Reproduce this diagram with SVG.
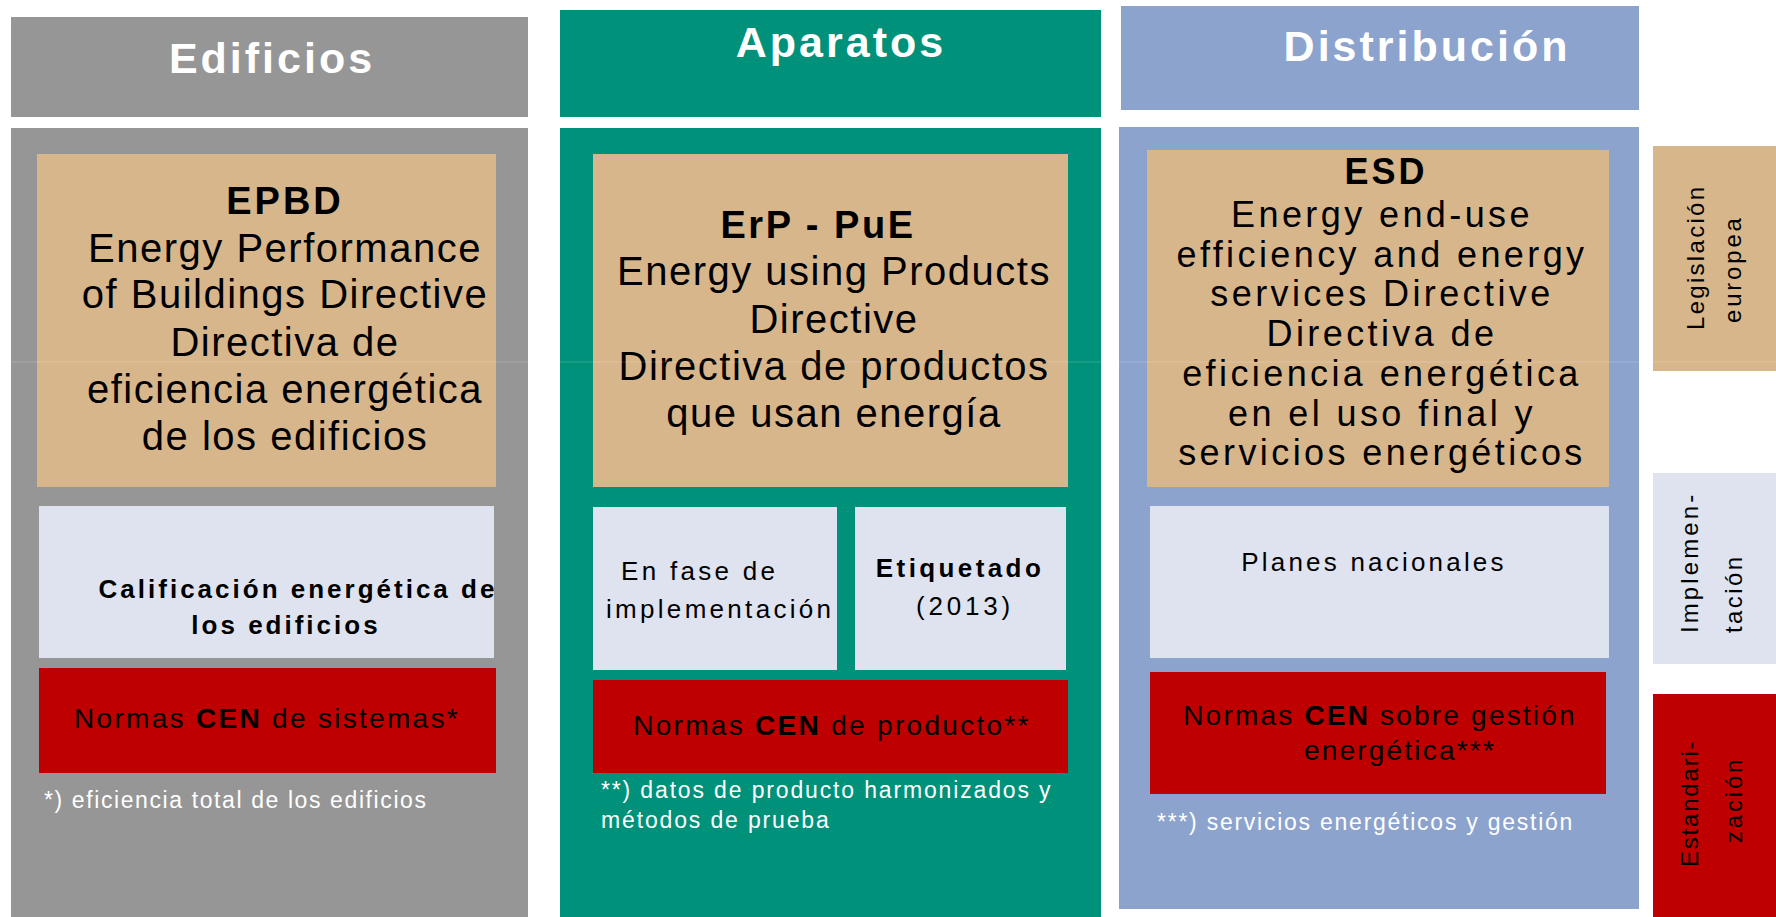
<svg xmlns="http://www.w3.org/2000/svg" width="1776" height="917" viewBox="0 0 1776 917">
<style>
text{font-family:'Liberation Sans',Arial,Helvetica,sans-serif;fill:#000}
.hd{font-size:43px;font-weight:bold;fill:#fff;letter-spacing:3px;text-anchor:middle}
.big{font-size:40px;letter-spacing:1.5px;text-anchor:middle}
.bigb{font-size:38px;font-weight:bold;letter-spacing:3px;text-anchor:middle}
.esd{font-size:36px;letter-spacing:3.4px;text-anchor:middle}
.esdb{font-size:36px;font-weight:bold;letter-spacing:3px;text-anchor:middle}
.mid{font-size:26px;letter-spacing:3.2px}
.midb{font-size:26px;font-weight:bold;letter-spacing:3.2px}
.red{font-size:28px;letter-spacing:2.3px;text-anchor:middle}
.fn{font-size:23px;fill:#fff;letter-spacing:1.7px}
.side{font-size:24px;letter-spacing:2.5px}
.b{font-weight:bold}
.gray{fill:#969696}
.tan{fill:#D8B68B}
.teal{fill:#00917A}
.blue{fill:#8CA3CE}
.lite{fill:#DEE3EF}
.rd{fill:#BF0000}
</style>
<rect width="1776" height="917" fill="#fff"/>

<g id="edificios">
<rect class="gray" x="11" y="17" width="517" height="100"/>
<text class="hd" x="272" y="73">Edificios</text>
<rect class="gray" x="11" y="128" width="517" height="789"/>
</g>
<g id="epbd">
<rect class="tan" x="37" y="154" width="459" height="333"/>
<text class="bigb" x="285" y="214">EPBD</text>
<text class="big" x="285" y="262">Energy Performance</text>
<text class="big" x="285" y="308">of Buildings Directive</text>
<text class="big" x="285" y="356">Directiva de</text>
<text class="big" x="285" y="403">eficiencia energética</text>
<text class="big" x="285" y="450">de los edificios</text>
</g>
<g id="calificacion">
<rect class="lite" x="39" y="506" width="455" height="152"/>
<text class="midb" x="298" y="598" text-anchor="middle" style="letter-spacing:3px">Calificación energética de</text>
<text class="midb" x="286" y="634" text-anchor="middle" style="letter-spacing:3px">los edificios</text>
</g>
<g id="cen-sistemas">
<rect class="rd" x="39" y="668" width="457" height="105"/>
<text class="red" x="267" y="728">Normas <tspan class="b">CEN</tspan> de sistemas*</text>
</g>
<g id="nota1">
<text class="fn" x="44" y="808" style="letter-spacing:1.6px">*) eficiencia total de los edificios</text>
</g>

<g id="aparatos">
<rect class="teal" x="560" y="10" width="541" height="107"/>
<text class="hd" x="841" y="57">Aparatos</text>
<rect class="teal" x="560" y="128" width="541" height="789"/>
</g>
<g id="erp">
<rect class="tan" x="593" y="154" width="475" height="333"/>
<text class="bigb" x="818" y="238" style="letter-spacing:2.5px">ErP - PuE</text>
<text class="big" x="834" y="285">Energy using Products</text>
<text class="big" x="834" y="333">Directive</text>
<text class="big" x="834" y="380">Directiva de productos</text>
<text class="big" x="834" y="427">que usan energía</text>
</g>
<g id="fase">
<rect class="lite" x="593" y="507" width="244" height="163"/>
<text class="mid" x="621" y="580" style="letter-spacing:3.3px">En fase de</text>
<text class="mid" x="606" y="618" style="letter-spacing:3.3px">implementación</text>
</g>
<g id="etiquetado">
<rect class="lite" x="855" y="507" width="211" height="163"/>
<text class="midb" x="960" y="577" text-anchor="middle" style="letter-spacing:3.4px">Etiquetado</text>
<text class="mid" x="965" y="615" text-anchor="middle" style="letter-spacing:3.8px">(2013)</text>
</g>
<g id="cen-producto">
<rect class="rd" x="593" y="680" width="475" height="93"/>
<text class="red" x="832" y="735">Normas <tspan class="b">CEN</tspan> de producto**</text>
</g>
<g id="nota2">
<text class="fn" x="601" y="798" style="letter-spacing:1.85px">**) datos de producto harmonizados y</text>
<text class="fn" x="601" y="828" style="letter-spacing:1.85px">métodos de prueba</text>
</g>

<g id="distribucion">
<rect class="blue" x="1121" y="6" width="518" height="104"/>
<text class="hd" x="1427" y="61">Distribución</text>
<rect class="blue" x="1119" y="127" width="520" height="782"/>
</g>
<g id="esd">
<rect class="tan" x="1147" y="150" width="462" height="337"/>
<text class="esdb" x="1386" y="184">ESD</text>
<text class="esd" x="1382" y="227">Energy end-use</text>
<text class="esd" x="1382" y="266.7">efficiency and energy</text>
<text class="esd" x="1382" y="306.4">services Directive</text>
<text class="esd" x="1382" y="346">Directiva de</text>
<text class="esd" x="1382" y="385.8">eficiencia energética</text>
<text class="esd" x="1382" y="425.5">en el uso final y</text>
<text class="esd" x="1382" y="465.2">servicios energéticos</text>
</g>
<g id="planes">
<rect class="lite" x="1150" y="506" width="459" height="152"/>
<text class="mid" x="1374" y="571" text-anchor="middle">Planes nacionales</text>
</g>
<g id="cen-gestion">
<rect class="rd" x="1150" y="672" width="456" height="122"/>
<text class="red" x="1380" y="725" style="letter-spacing:2.2px">Normas <tspan class="b">CEN</tspan> sobre gestión</text>
<text class="red" x="1400" y="760" style="letter-spacing:2.2px">energética***</text>
</g>
<g id="nota3">
<text class="fn" x="1157" y="830" style="letter-spacing:1.75px">***) servicios energéticos y gestión</text>
</g>

<g id="legislacion">
<rect class="tan" x="1653" y="146" width="123" height="225"/>
<text class="side" transform="translate(1704,330) rotate(-90)" style="letter-spacing:2.3px">Legislación</text>
<text class="side" transform="translate(1741,323) rotate(-90)" style="letter-spacing:2.8px">europea</text>
</g>
<g id="implementacion">
<rect class="lite" x="1653" y="473" width="123" height="191"/>
<text class="side" transform="translate(1698,633) rotate(-90)" style="letter-spacing:3.1px">Implemen-</text>
<text class="side" transform="translate(1742,633) rotate(-90)" style="letter-spacing:2.4px">tación</text>
</g>
<g id="estandarizacion">
<rect class="rd" x="1653" y="694" width="123" height="223"/>
<text class="side" transform="translate(1698,867) rotate(-90)" style="letter-spacing:1.8px">Estandari-</text>
<text class="side" transform="translate(1742,843) rotate(-90)" style="letter-spacing:2.8px">zación</text>
</g>

<g id="connectors"></g>
<line x1="0" y1="362" x2="1776" y2="362" stroke="#fff" stroke-opacity="0.18" stroke-width="1"/>
</svg>
